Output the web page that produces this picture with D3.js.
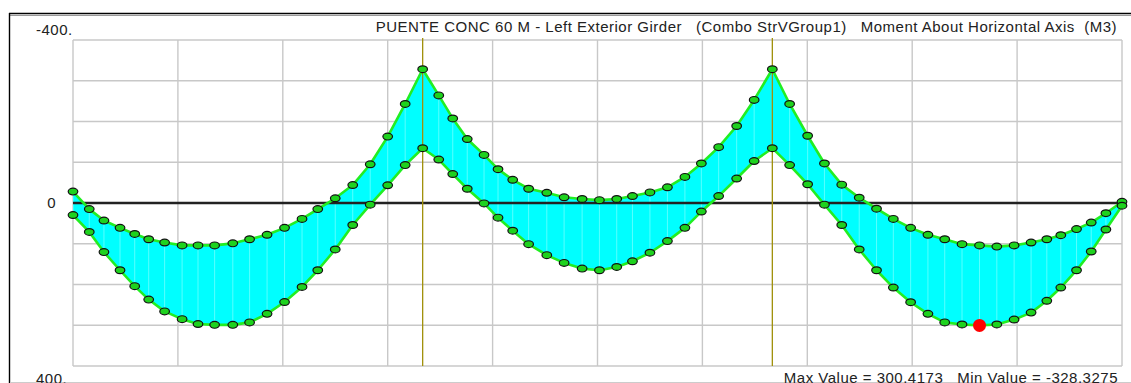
<!DOCTYPE html>
<html>
<head>
<meta charset="utf-8">
<script src="https://cdn.jsdelivr.net/npm/d3@7"></script>
<style>
  html, body { margin: 0; padding: 0; background: #fff; }
  svg { display: block; font-family: "Liberation Sans", Arial, sans-serif; }
  text { white-space: pre; letter-spacing: 0.5px; }
</style>
</head>
<body>
<script>
// stations along the girder (m)
const stations = [
  0, 0.93, 1.77, 2.69, 3.53, 4.33, 5.24, 6.24, 7.15, 8.1, 9.14, 10.1, 11.1, 12.1, 13.1, 14.0, 15.0, 16.0, 17.0, 18.0, 19.0, 20.0,
  20.92, 21.72, 22.55, 23.51, 24.31, 25.15, 26.06, 27.1, 28.09, 29.12, 30.11, 31.1, 32.0, 33.0, 34.0, 35.0, 35.94, 36.93, 37.96, 38.96, 40,
  40.99, 42.02, 42.98, 43.97, 44.97, 45.96, 46.92, 47.91, 48.9, 49.86, 50.85, 51.85, 52.84, 53.83, 54.8, 55.7, 56.5, 57.4, 58.24, 59.08, 60
];
// minimum envelope (upper curve)
const minM = [
  -28, 15, 43, 61, 76, 89, 97, 104, 104, 104, 99, 89, 78, 61, 39, 15, -11.5, -44, -95, -163, -243, -328.3,
  -264, -207.5, -157, -118, -83, -57, -35, -25, -14, -10, -7, -10, -17, -26, -38.5, -64, -97, -137, -189, -253, -328.3,
  -243, -165, -97, -45, -13, 14, 39, 61, 78, 89, 101, 104, 107, 104, 97, 89, 79, 64, 48, 25, -3
];
// maximum envelope (lower curve)
const maxM = [
  29.5, 71, 120.5, 165, 204, 237, 266, 285, 297, 299, 299, 293, 272, 243, 206, 165, 114, 54, 4, -43.5, -93, -134.5,
  -106.6, -71, -35, 1, 36, 68, 101, 128, 147, 161, 165, 157, 143, 122, 93.5, 61, 21, -17, -60, -103, -134.5,
  -93, -46, 4, 54, 114, 165, 207.5, 243.5, 272, 293, 298, 300.4, 298, 286, 269, 240, 207.5, 165, 119, 65, 6.6
];
const supports = [20, 40];
const yTicks = [-400, 0, 400];
const yTickLabels = ['-400.', '0', '400.'];
const title = 'PUENTE CONC 60 M - Left Exterior Girder   (Combo StrVGroup1)   Moment About Horizontal Axis  (M3)';
const footer = 'Max Value = 300.4173   Min Value = -328.3275';

const W = 1131, H = 383;
const svg = d3.select('body').append('svg').attr('width', W).attr('height', H);

const x = d3.scaleLinear().domain([0, 60]).range([73, 1122]);
const y = d3.scaleLinear().domain([-400, 400]).range([40, 366]);

const data = stations.map((s, i) => ({ s: s, lo: minM[i], hi: maxM[i] }));

// frame
svg.append('line').attr('x1', 9).attr('x2', W).attr('y1', 13.5).attr('y2', 13.5)
  .attr('stroke', '#000').attr('stroke-width', 1.6);
svg.append('line').attr('x1', 10).attr('x2', W).attr('y1', 15.5).attr('y2', 15.5)
  .attr('stroke', '#999').attr('stroke-width', 1);
svg.append('line').attr('x1', 9.5).attr('x2', 9.5).attr('y1', 13).attr('y2', H)
  .attr('stroke', '#000').attr('stroke-width', 1.4);
svg.append('line').attr('x1', 10).attr('x2', W).attr('y1', 382.5).attr('y2', 382.5)
  .attr('stroke', '#ccc').attr('stroke-width', 1);

// grid
const grid = svg.append('g').attr('stroke', '#c8c8c8').attr('stroke-width', 1.4);
grid.selectAll('.h').data(d3.range(-400, 401, 100)).join('line')
  .attr('x1', x(0)).attr('x2', x(60)).attr('y1', d => y(d)).attr('y2', d => y(d));
grid.selectAll('.v').data(d3.range(0, 61, 6)).join('line')
  .attr('x1', d => x(d)).attr('x2', d => x(d)).attr('y1', y(-400)).attr('y2', y(400));

// envelope fill
const area = d3.area().x(d => x(d.s)).y0(d => y(d.hi)).y1(d => y(d.lo));
svg.append('path').datum(data).attr('d', area).attr('fill', '#00ffff');

// light station lines inside the fill
svg.append('g').selectAll('line').data(data).join('line')
  .attr('x1', d => x(d.s)).attr('x2', d => x(d.s))
  .attr('y1', d => y(d.lo)).attr('y2', d => y(d.hi))
  .attr('stroke', '#ffffff').attr('stroke-opacity', 0.35).attr('stroke-width', 1);

// zero line
svg.append('line').attr('x1', x(0)).attr('x2', x(60)).attr('y1', y(0)).attr('y2', y(0))
  .attr('stroke', '#222').attr('stroke-width', 2.6);

// supports
svg.selectAll('.sup').data(supports).join('line')
  .attr('x1', d => x(d)).attr('x2', d => x(d)).attr('y1', y(-400) - 2).attr('y2', y(400))
  .attr('stroke', '#a0900a').attr('stroke-width', 1.3);

// envelope lines
const lineLo = d3.line().x(d => x(d.s)).y(d => y(d.lo));
const lineHi = d3.line().x(d => x(d.s)).y(d => y(d.hi));
[lineLo, lineHi].forEach(l => {
  svg.append('path').datum(data).attr('d', l)
    .attr('fill', 'none').attr('stroke', '#22ee22').attr('stroke-width', 2.6)
    .attr('stroke-linejoin', 'round');
});

// markers
const iMax = d3.maxIndex(maxM);
['lo', 'hi'].forEach(k => {
  svg.append('g').selectAll('ellipse').data(data.filter((d, i) => !(k === 'hi' && i === iMax))).join('ellipse')
    .attr('cx', d => x(d.s)).attr('cy', d => y(d[k]))
    .attr('rx', 4.8).attr('ry', 3.4)
    .attr('fill', '#1ed21e').attr('stroke', '#111').attr('stroke-width', 1.2);
});
svg.append('circle').attr('cx', x(stations[iMax])).attr('cy', y(maxM[iMax]))
  .attr('r', 6.5).attr('fill', '#ff0000');

// y labels
svg.selectAll('.yl').data(yTicks).join('text')
  .attr('x', d => d === 0 ? 56 : 36)
  .attr('y', d => d === -400 ? 35 : d === 400 ? 384 : y(d) + 5)
  .attr('text-anchor', d => d === 0 ? 'end' : 'start')
  .attr('font-size', 15).attr('fill', '#222')
  .text((d, i) => yTickLabels[i]);

svg.append('text').attr('x', 1117).attr('y', 32).attr('text-anchor', 'end')
  .attr('font-size', 15).attr('fill', '#222')
  .text(title);

svg.append('text').attr('x', 1118).attr('y', 383).attr('text-anchor', 'end')
  .attr('font-size', 15).attr('fill', '#222')
  .text(footer);
</script>
</body>
</html>
